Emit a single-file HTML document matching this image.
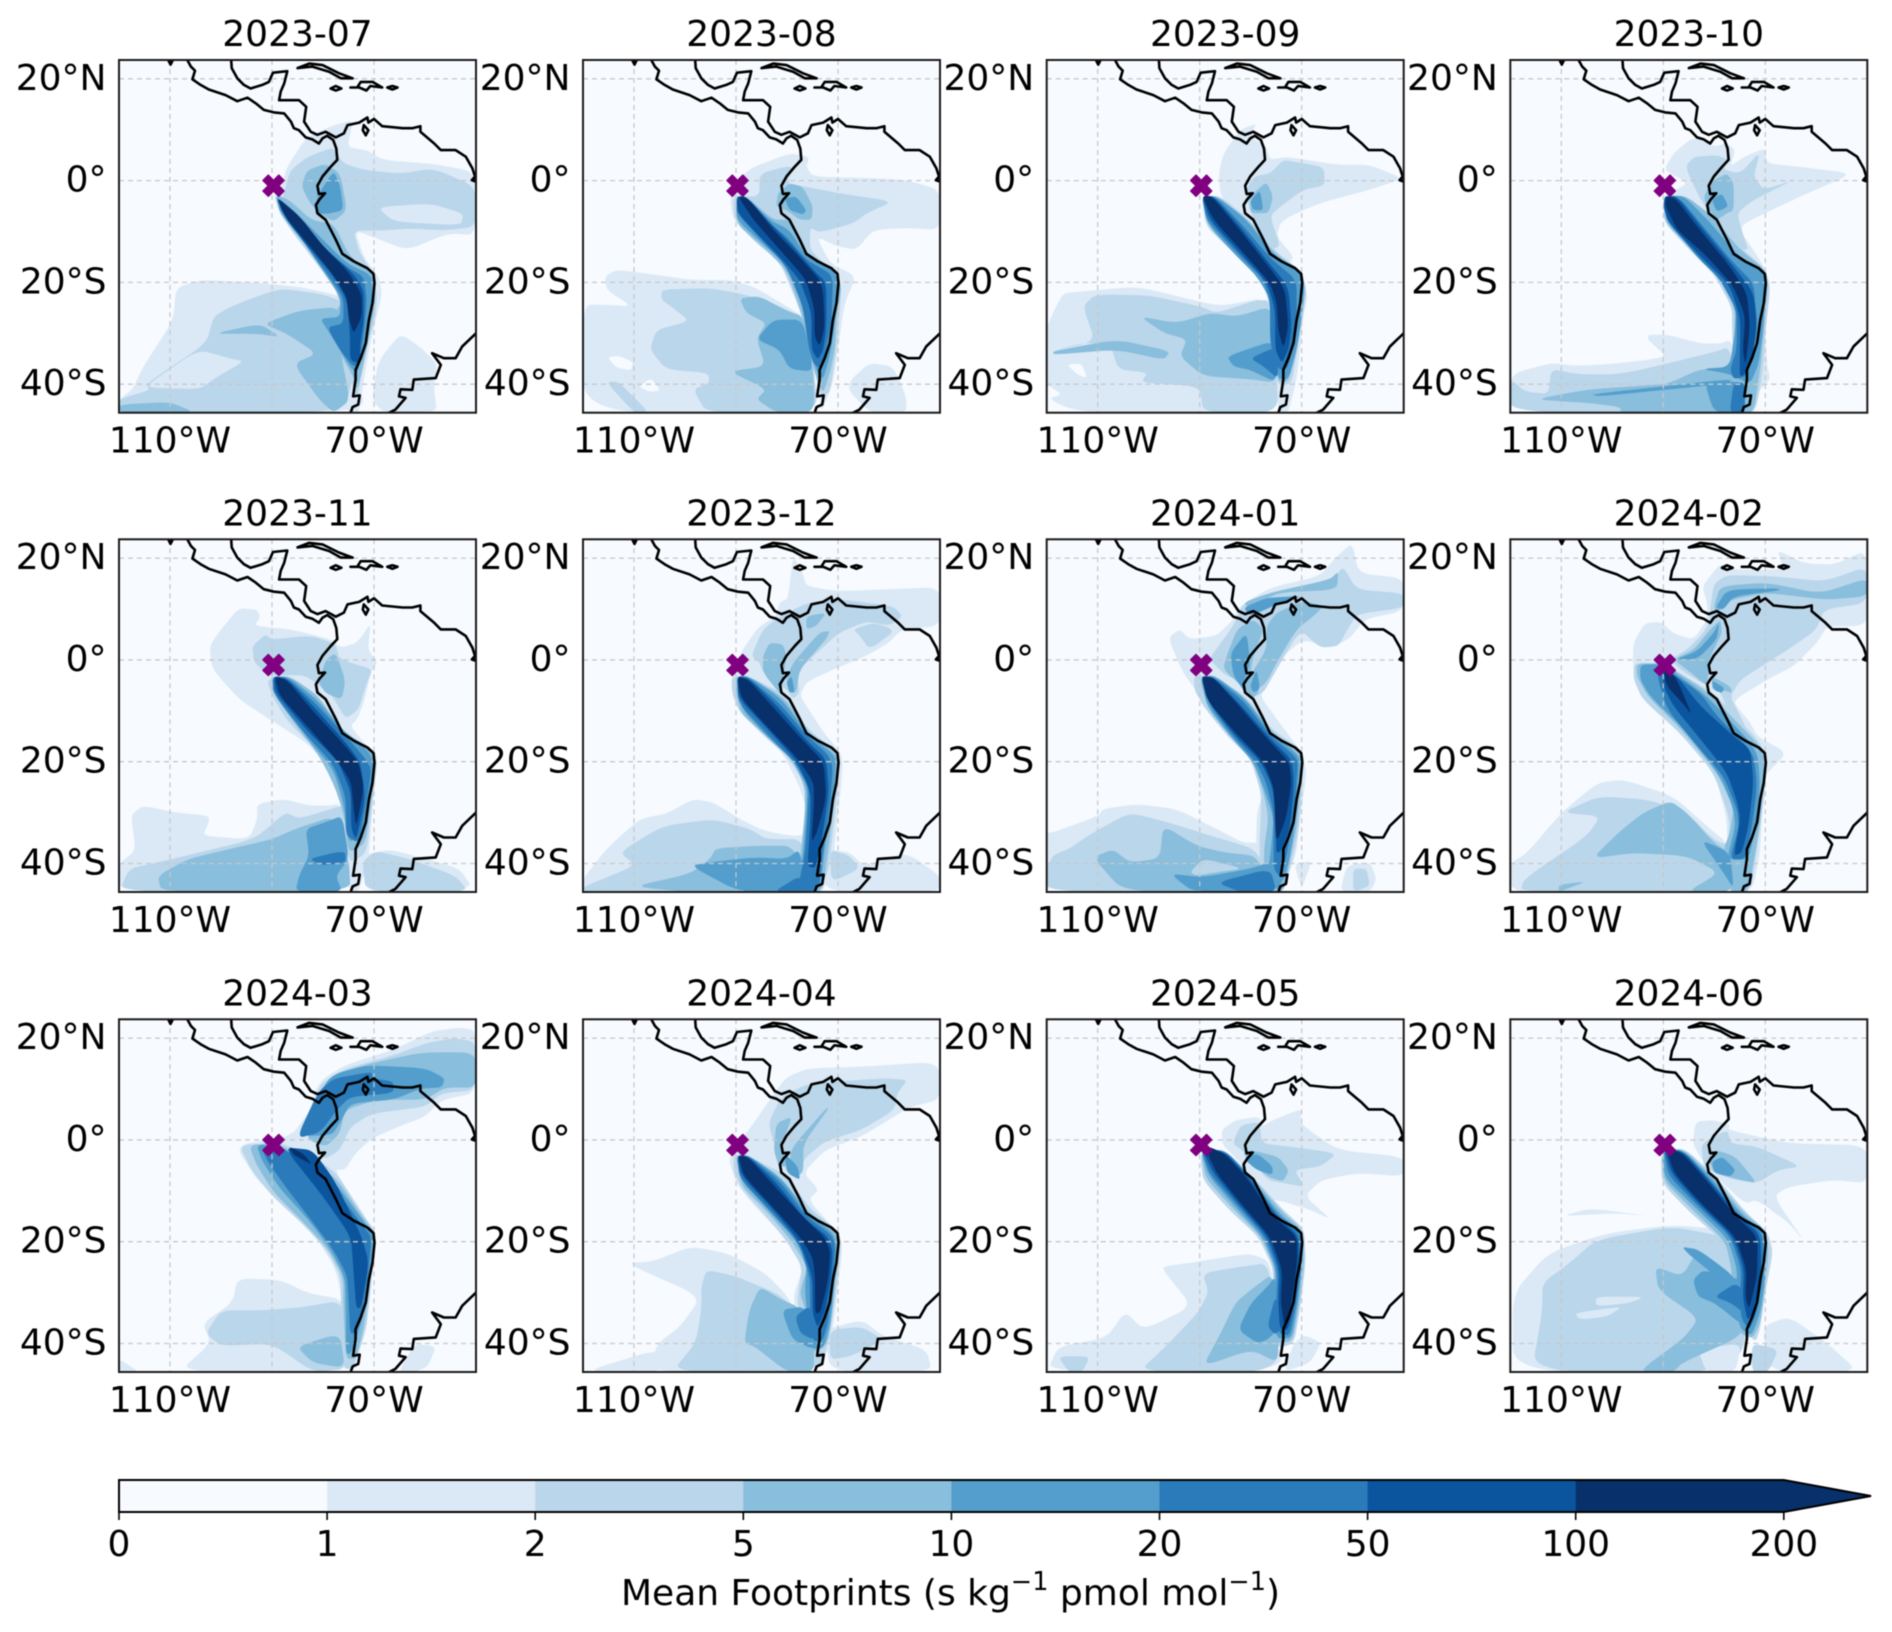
<!DOCTYPE html>
<html lang="en"><head><meta charset="utf-8"><title>Mean Footprints</title>
<style>html,body{margin:0;padding:0;background:#fff}svg{display:block;filter:blur(.55px)}text{font-family:"DejaVu Sans","Liberation Sans",sans-serif;fill:#000}</style>
</head><body>
<svg id="figure" xmlns="http://www.w3.org/2000/svg" width="1892" height="1632" viewBox="0 0 1892 1632"></svg>
<script>
const months=['2023-07','2023-08','2023-09','2023-10','2023-11','2023-12','2024-01','2024-02','2024-03','2024-04','2024-05','2024-06'];
const levels=[0,1,2,5,10,20,50,100,200];
const bandColors=['#f7fbff','#dbe9f6','#bad6eb','#89bedc','#539ecd','#2b7bba','#0b559f','#08306b'];
const lonDomain=[-120,-50];
const latDomain=[-45.6,23.7];
const lonGrid=[-110,-90,-70];
const latGrid=[20,0,-20,-40];
const lonTicks=[-110,-70];
const latTicks=[20,0,-20,-40];
const site=[-89.7,-1];
const coastPacific=[-106.6,23.7,-105.9,22.4,-105.1,21.6,-105.6,19.9,-104,18.8,-102.4,17.9,-99.1,16.8,-96.8,15.6,-94.8,16.3,-93.2,15.2,-91.6,13.9,-89.6,13.4,-87.6,13.2,-86.3,11.6,-85.7,10.3,-84.7,9.9,-83.4,8.5,-82.1,8.1,-80.8,7.3,-80.1,8.3,-79.2,8.8,-78,8,-77.4,6.3,-77.2,4.1,-78.5,2.7,-80.1,.8,-81.1,-1,-80.8,-2.6,-79.6,-2.5,-80.7,-3.7,-81.4,-4.8,-81.1,-6.4,-79.5,-7.7,-77.5,-11.6,-76.2,-14.4,-73.9,-15.9,-71.3,-17.2,-70.1,-18.3,-69.9,-20.2,-70.3,-24.1,-71,-27.4,-71.6,-31.9,-72.6,-34.9,-73.6,-37.2,-73.6,-39.1,-74.1,-42.4,-72.8,-42.2,-73.1,-44,-74.2,-44.5,-74.6,-45.7];
const coastCaribbean=[-98,23.7,-97.9,22.1,-96.8,20.1,-95.5,18.8,-94.2,18.1,-91.9,18.8,-90.6,19.4,-89.8,21.2,-87,21.5,-87.6,19.1,-88.3,17.5,-88.6,15.8,-84.7,15.8,-83.3,14.5,-83.7,11.6,-82.4,9.6,-81.1,9,-79.5,9.6,-77.5,8.5,-75.9,9.3,-75.2,10.9,-72.9,11.4,-71.3,12.4,-71.1,11.4,-70,12.1,-68.4,10.7,-64.4,10.3,-62.5,10.3,-60.9,10.7,-60.9,9.6,-58.2,7.3,-56.9,6,-54,6,-52,4.7,-50.7,2.4,-50.2,.8];
const coastAtlantic=[-50,-30,-52.7,-32.6,-54,-34.9,-56.3,-34.9,-58.6,-33.9,-56.9,-36.2,-57.9,-38.8,-62.2,-39.1,-62.5,-41.1,-64.8,-41,-65.1,-42.4,-63.8,-42.7,-65.8,-45,-67.2,-45.7];
const islandCuba=[-85,22.1,-82.7,23,-80.1,22.7,-76.9,21.1,-74.2,20.1,-76.5,20.1,-78.8,21.4,-82.1,22.4];
const islandJamaica=[-78.5,18.1,-77.5,18.6,-76.4,18.1,-77.5,17.7];
const islandHispaniola=[-74.6,18.3,-73.3,18.3,-72.6,19.4,-70.3,19.4,-68.4,18.3,-70.7,18.6,-71.5,17.7,-72.9,18.3];
const islandPuertoRico=[-67.4,18.3,-66.4,18.6,-65.4,18.3,-66.4,17.9];
const bajaTip=[-110.3,23.6,-109.5,23.6,-109.9,22.8];
const lakeMaracaibo=[-72,10.9,-71.1,9.9,-71.6,8.9,-72.2,9.9];
const islandMarajo=[-50.8,.1,-50.1,.9,-50,-.2];
const f2307=[
[1,[-120,-45.6,-120,-43,-117.3,-41,-115.3,-36.6,-109.4,-27.5,-108.8,-21,-104,-19.5,-98,-19.8,-91,-20.2,-84,-21,-78,-22.3,-76,-23,-74,-30,-73,-38,-71.8,-45.6]],
[1,[-88.1,-1.2,-87.1,2.7,-83.2,8.6,-77.9,10.9,-74,11.9,-75.3,6.6,-71.4,6,-68.1,4,-58.3,3.3,-50,1.7,-50,-10.7,-55.6,-10.4,-63.5,-13.7,-69.4,-11.4,-73.7,-9.8,-72,-15,-69.1,-18.9,-68.4,-22.2,-69.7,-27.5,-71,-33.4,-72,-39.3,-73,-45.8,-75.3,-45.6,-76,-36.6,-76.6,-22.9,-79.9,-18.3,-84.5,-12,-88.4,-6.5,-89.7,-3.2]],
[1,[-68.1,-34,-64.8,-30.1,-60.9,-32.7,-57.6,-36,-58.3,-40.6,-57.6,-45.6,-68.1,-45.6,-70.4,-43.2,-69.4,-36.6]],
[2,[-98.9,-25.2,-95,-23.5,-88.4,-21.2,-80.6,-22.2,-76.6,-23.5,-75.3,-30.1,-74,-38.6,-76,-45.6,-120,-45.6,-120,-42.9,-114,-41.2,-114.7,-39.9,-102.9,-32,-101.5,-26.8]],
[1,[-114,-39.8,-104.5,-33.2,-98,-35,-95.5,-35.5,-101,-38.7,-104.2,-41,-114,-40.7]],
[2,[-87.8,-3.2,-86.5,2,-82.9,4.7,-77.9,6.6,-76,3.3,-71.4,2,-64.8,1.4,-58.3,2.4,-50,-1.2,-50,-9.1,-56.3,-9.8,-62.9,-9.4,-68.1,-9.8,-74,-9.8,-73,-13.7,-70.7,-17.6,-69.4,-22.2,-69.7,-26.8,-71.4,-32.7,-72.4,-37.9,-73.3,-43.2,-75.3,-36.6,-77.3,-20.9,-81.2,-16.3,-85.8,-10.4,-89,-5.5]],
[1,[-69.4,-5.2,-58.9,-4.5,-52.4,-6.5,-53,-8.8,-66.1,-8.1]],
[3,[-91.7,-28.1,-84.5,-25.5,-76.6,-24.8,-76.6,-33.4,-74.7,-43.2,-77.9,-45.6,-80.6,-43.2,-85.8,-36,-81.2,-34,-87.1,-30.1]],
[3,[-101.5,-30.1,-92.4,-28.1,-88.4,-30.7,-93,-30.1]],
[3,[-120,-45.6,-120,-44,-110,-43.5,-105,-45.6]],
[3,[-84.2,-1.2,-83.2,2,-79.6,3.3,-76.6,1.4,-75.3,-5.8,-77.9,-8.1,-80.5,-6.5,-82.5,-4.5]],
[3,[-89.4,-2.6,-86.5,-3.9,-82.2,-7.8,-77.9,-8.5,-74.7,-15,-70,-18.3,-69.7,-23.5,-70.7,-29.4,-72,-36,-73.3,-41.2,-74,-38.6,-76.6,-34,-79.9,-27.5,-76.6,-24.8,-76.6,-22.2,-79.2,-17.6,-84.5,-11.4,-88.4,-6.5]],
[4,[-81.2,-3.2,-77.9,2,-76.6,-1.2,-76,-5.8,-78.9,-6.5,-81.2,-6.5]],
[4,[-89.3,-2.9,-85.8,-5.8,-81.2,-10.4,-75.3,-16.3,-70.4,-18.6,-70.4,-23.5,-71.4,-30.1,-72.4,-34.7,-73.3,-37.9,-74.7,-36.6,-78.6,-30.1,-80.6,-27.1,-76.6,-26.8,-76.6,-22.9,-79.2,-18.9,-83.8,-12.1,-88.4,-6.2]],
[5,[-89.2,-3.2,-85.1,-6.5,-80.6,-12.4,-75.3,-17,-72,-18.9,-71.4,-23.5,-72,-30.1,-73,-36,-74,-36.6,-76.6,-33.4,-79.2,-28.8,-76,-28.1,-76,-22.9,-79.2,-18.3,-84.5,-11.1]],
[6,[-89.1,-3.2,-84.5,-7.8,-79.2,-13.7,-74,-18.3,-72,-21.6,-72,-27.5,-72.7,-32,-72.7,-36,-74.7,-35.3,-74.7,-30.1,-75.3,-23.5,-77.9,-18.9,-82.5,-13.4,-87.1,-7.8]],
[7,[-89.1,-3.2,-84.5,-7.1,-79.9,-13,-75.3,-17.6,-72.4,-22.2,-72.4,-26.8,-74,-30.1,-75,-26.8,-75.3,-22.9,-77.9,-18.6,-83.8,-11.4,-87.8,-6.5]]
];
const f2308=[
[1,[-120,-24.4,-115.4,-24.4,-110.5,-24.7,-115.4,-21.5,-115.7,-18.8,-113.4,-17.5,-105.6,-18.5,-99,-19.5,-91.2,-19.5,-86.6,-20.8,-80,-24.7,-76.8,-26.7,-74.9,-36.5,-74,-45.6,-120,-45.6]],
[0,[-115.2,-34.7,-113,-34.4,-110.2,-35.7,-110.6,-37.3,-113.5,-36.7]],
[0,[-109,-40.5,-106.7,-38.8,-104.8,-41.2,-107,-41.5]],
[1,[-88,2.1,-79.5,5.4,-75.6,4.7,-76.2,2.7,-74.9,.8,-63.1,.5,-56.6,.1,-50,-1.8,-50,-9.7,-56.6,-9.3,-63.1,-9.7,-66.4,-13.6,-70.3,-12.9,-74.2,-11,-71.6,-16.2,-66.4,-18.8,-68.7,-24,-70,-33.2,-71,-39.7,-72,-42.4,-73.3,-45.5,-73.9,-39.7,-74.9,-35.2,-77.5,-25.4,-81.4,-16.2,-85.4,-12.9,-90.6,-7.7,-91.2,-3.1]],
[1,[-67.4,-39,-63.8,-35.8,-59.2,-36.5,-56.6,-42.4,-56.6,-45.6,-63.8,-45.6,-68,-41.1]],
[2,[-104.6,-21.4,-95.8,-21.1,-89.3,-22.1,-82.7,-24.1,-77.2,-26.7,-74.9,-35.2,-73.9,-45.6,-95.8,-45.6,-98.4,-41,-95.2,-39.7,-95.5,-37.8,-103.7,-37.1,-106.9,-33.2,-105.6,-29.3,-99.1,-27.6,-102.4,-25,-104.6,-23.4]],
[2,[-115.5,-39.5,-113,-39.5,-107,-45.6,-110,-45.6]],
[2,[-85.4,1.4,-78.8,3.1,-80,-.5,-76.2,-1.2,-69.7,-2.5,-59.2,-4.1,-64.4,-6.4,-67,-8.4,-73.6,-10.2,-75.5,-9.2,-75.5,-13.5,-73,-16,-70.7,-18.8,-69.3,-21.4,-70.3,-33.2,-71.6,-41.7,-73.3,-42.4,-74.9,-36.5,-77.2,-26,-81.4,-15.6,-86,-12.3,-90.3,-7.7,-90.6,-3.1,-85.4,-3.1]],
[3,[-89.3,-23.1,-85.4,-22.7,-80,-25.6,-76.8,-26.7,-74.9,-36.5,-74.6,-45.6,-82,-45.6,-86,-43,-84,-41,-91.3,-37.5,-84.2,-36.5,-86,-31,-84,-28,-88,-26]],
[3,[-82.1,-5.1,-81.8,-2.5,-79.5,-.5,-76.9,-1.2,-74.9,-5.1,-75.2,-7.7,-77.5,-7.7,-80.1,-5.8]],
[3,[-89.9,-3.1,-88,-3.1,-82.7,-7.7,-79.5,-7.7,-76.2,-14.3,-71,-17.2,-70,-18.8,-69.3,-21.4,-70.3,-26.7,-70.6,-33.2,-71.6,-37.8,-72.9,-41.7,-73.9,-39.7,-74.9,-36.5,-76.9,-26.7,-80.1,-17.6,-84.7,-13,-89.9,-8.5]],
[4,[-82.7,-27.3,-77,-27.3,-75.2,-34.5,-75.2,-37.5,-79.5,-37,-81.5,-33.2,-86,-31.2]],
[4,[-80.5,-3.5,-78.2,-3.1,-76.2,-5.8,-76.9,-6.7,-79.5,-5.8]],
[4,[-89.9,-3.5,-88,-3.1,-83.4,-7.7,-79.5,-9.7,-76.2,-14.9,-71,-17.5,-70,-19.5,-70.6,-28,-71.6,-34.5,-72.9,-39,-73.9,-38,-75.2,-34.5,-76.5,-25.4,-79.5,-16.9,-84.1,-13,-89.9,-7.7]],
[5,[-89.9,-3.5,-88,-3.1,-83.4,-8.4,-80.1,-11,-76.2,-15.6,-71.6,-18.2,-71,-20.1,-71.3,-28,-72.3,-32.6,-73.3,-37.1,-74.9,-35.9,-75.9,-31.9,-76.9,-24.7,-80.1,-16.9,-84.7,-12,-89.9,-6.4]],
[6,[-89.9,-3.1,-88,-3.1,-82.7,-9,-78.8,-13,-74.9,-17.5,-72.3,-20.1,-72.3,-28.7,-72.9,-33.2,-73.9,-35.2,-75.2,-33.2,-75.2,-25.9,-77.5,-19.5,-81.4,-15,-86,-10.3,-89.6,-6.4]],
[7,[-89.6,-3.1,-87.6,-3.5,-82.7,-9.7,-78.2,-14.3,-73,-20.1,-72.6,-28.7,-73.6,-32.6,-74.6,-30.6,-74.6,-25.4,-76.2,-19.5,-81.4,-13.6,-86.6,-7.7]]
];
const f2309=[
[1,[-120,-29,-118.8,-26,-116.8,-22.1,-113.4,-21.8,-102.4,-20.8,-93.9,-22.8,-86,-24.7,-76.2,-22.8,-74.5,-45.6,-120,-45.6]],
[0,[-116,-36.1,-113.1,-36,-112.1,-38.8,-114,-38.1]],
[0,[-120,-40,-117,-42,-120,-43]],
[1,[-86.3,1.4,-85.3,5.4,-82.1,10,-78.8,11.3,-80.1,8.6,-76.9,6.7,-76.2,4.1,-72.9,4.7,-63.1,3.1,-56.6,3.1,-50,.4,-56.6,-1.8,-66.4,-4.4,-72.3,-7,-74.2,-8.4,-74.9,-11,-71.6,-14.9,-72.3,-16.2,-68.7,-22,-69.7,-26.7,-70.3,-33.2,-71,-39,-72.6,-45.6,-74.6,-45.6,-74.9,-39,-75.5,-24,-80.1,-16.2,-82.7,-13,-85.4,-9.7,-88,-5.1,-89.3,-3.1,-87,-3,-82,-7.7,-85.9,-3.1]],
[2,[-119.7,-33.7,-113.4,-32,-107.6,-31.9,-106,-37.1,-100.2,-37.7,-101.5,-39.7,-90,-40.4,-89.3,-45.6,-74.6,-45.6,-75,-36,-76.2,-23.5,-79,-23.5,-86.6,-26,-90,-24.7,-100,-22.5,-110.5,-22.4,-112.9,-24.7,-110.5,-31.6]],
[2,[-81.1,-2.5,-79.5,.8,-76.2,1.4,-73.6,4.1,-70.3,3.5,-65.7,2.7,-65.4,-.9,-69.7,-1.8,-74.2,-5.1,-76.2,-7,-74.2,-12.9,-76.2,-13.6,-79.5,-7.7]],
[2,[-89.6,-3,-86,-3,-80.5,-7.5,-75,-14,-70,-17.8,-69,-21.5,-69.8,-27,-70.8,-33,-72,-40,-75,-40,-75.5,-27,-78,-19,-83,-14.5,-88.8,-9]],
[3,[-101.7,-26.7,-94.5,-28,-88,-26,-82.7,-26.7,-76.2,-24.7,-74.9,-30.6,-74.9,-39.7,-80.1,-39,-89.3,-38.4,-93.9,-34.5,-92.5,-31.2,-97.1,-29.9]],
[3,[-118.7,-33.5,-106.3,-31.2,-95.8,-33.5,-97,-35.2,-106.3,-33.2,-118.7,-34.2]],
[3,[-80.1,-3.1,-76.9,-.2,-75.6,-3.1,-76.5,-6.4,-80.1,-6.4]],
[3,[-89.5,-3.1,-86.5,-3.1,-80.5,-7.7,-75.3,-14.2,-70,-18,-69.3,-21.4,-69.9,-26.7,-70.9,-33.2,-72.6,-39.5,-74.8,-39.5,-75.3,-30,-75.6,-24.2,-78.8,-18.8,-83.4,-14.2,-88.6,-8.4]],
[4,[-84.7,-34.5,-74.9,-31.2,-74.9,-39.7,-80.1,-37.2,-83.4,-36.5]],
[4,[-80.1,-4.1,-78.2,-1.8,-77.5,-5.8,-79.5,-5.8]],
[4,[-89.5,-3.1,-86.7,-3.1,-80.8,-7.7,-75.6,-14.5,-70,-18.2,-69.5,-21.4,-70,-26.7,-71,-33.2,-72.6,-39,-74.6,-39,-75.3,-33,-75.6,-24.2,-78.8,-18.8,-83.4,-14.2,-88.6,-8.4]],
[5,[-80.1,-34.9,-74.9,-32.6,-74.6,-39,-77.5,-36.5]],
[5,[-89.6,-3,-87,-3.1,-81.4,-9,-76.2,-15.2,-71,-19.5,-71,-26.7,-71.6,-32.6,-72.9,-37.1,-74.6,-37.1,-76.2,-31.9,-76.2,-24,-77.5,-19.5,-82.7,-14.2,-88.6,-7.7]],
[6,[-89.6,-3,-87.3,-3.1,-82.1,-9,-76.9,-15.6,-72.6,-20.8,-72,-28.7,-72.6,-33.2,-73.9,-35.9,-75.2,-33.2,-75.2,-25.4,-76.9,-19.8,-82.1,-14.2,-88,-7.7]],
[7,[-89.5,-3,-87.6,-3.1,-82.7,-9,-77.5,-15.6,-73.3,-21.1,-72.6,-28.7,-73.6,-33,-74.6,-29.4,-74.9,-24,-76.2,-20.1,-81.4,-14.2,-87.3,-7.7]]
];
const f2310=[
[1,[-120,-45.6,-120,-38,-112,-35.8,-106.9,-36.4,-100,-36,-93,-35.2,-89.5,-34.5,-93,-31.3,-93,-30.3,-89,-30.3,-82.7,-32,-78.8,-32,-76.9,-31.3,-75,-35,-73,-45.6]],
[1,[-89.9,2.1,-88,5.4,-84.1,8.6,-80.1,6.7,-77.5,7.3,-75.9,6,-76.9,2.7,-74.2,4.7,-70,6.4,-69.7,3.4,-63.1,2.7,-52.7,1.4,-63.1,-3.1,-74.2,-8.4,-74.9,-10,-72.3,-13.6,-70,-17.5,-69,-21.4,-70.3,-25.4,-69.6,-36.5,-69,-39,-72.3,-42.4,-73.9,-45.6,-75,-39.7,-76,-25.4,-80.1,-16.9,-85.4,-11.6,-90,-7,-90,-3,-85,-.5]],
[2,[-120,-45.6,-120,-39,-117,-41.5,-112.5,-41.9,-112,-37,-107,-38,-100.5,-38.1,-95.8,-37.5,-80,-33.7,-77,-32.6,-74,-45.6]],
[2,[-85.7,2.7,-84,4.7,-79.5,5,-77.2,4.1,-78.2,2.1,-74.9,1.4,-71,5.7,-72.3,.8,-70.3,-1.8,-64.5,.1,-72.3,-3.8,-75.6,-6.4,-74.2,-11,-73.3,-13.6,-75.6,-13.6,-77.5,-11,-82.7,-3.8]],
[2,[-89.8,-3,-85.5,-3,-79.5,-7.5,-74.5,-13.5,-70,-17.3,-69,-21,-70,-30,-70.5,-38,-72,-45.6,-76,-45.6,-76.5,-30,-76.5,-25,-80,-18.5,-84.5,-14,-90,-8]],
[3,[-115.4,-43,-104.4,-41,-95.8,-40.4,-89.3,-40,-82.7,-37,-76.2,-37,-75.5,-45.6,-98.4,-45.6,-98.4,-44.5,-104.4,-43.7]],
[3,[-82.1,-3.1,-80.1,.1,-77.5,1.4,-76.2,-.5,-76.2,-5.8,-77.5,-6.4,-79.5,-7.7,-81.4,-5.1]],
[3,[-89.7,-3,-85.5,-3,-80,-7.5,-75,-13.5,-70,-17.5,-69.5,-21,-70.3,-30,-71,-37,-72.3,-45.6,-76,-45.6,-76,-30,-76,-25,-79.5,-18.5,-84,-14,-89.8,-8]],
[4,[-104.4,-42,-76.9,-39,-76.9,-39.8,-102.4,-42.4]],
[4,[-82,-39.5,-74,-39.5,-74,-45.6,-80,-45.6]],
[4,[-80.5,-3.8,-78.5,-2.5,-77.2,-5.1,-79.5,-6.1]],
[4,[-89.6,-3,-86,-3,-81,-8,-75.6,-14.5,-70.3,-17.9,-69.8,-21,-70.5,-30,-71.3,-36,-73,-40,-77,-38,-82.5,-37,-77,-36.6,-76,-30,-75.6,-24,-79.5,-18.5,-84,-14,-89.5,-8]],
[5,[-76.2,-39.7,-74,-39.7,-74,-45.6,-77,-45.6]],
[5,[-89.6,-3.1,-86.7,-3.5,-82.7,-8.4,-76.2,-16.2,-72.3,-20.1,-71.6,-28,-72.3,-33.2,-73.6,-38.4,-76.2,-39,-76.9,-37,-75.6,-33.2,-75.6,-25.4,-78.8,-19.5,-83.4,-14.9,-89.3,-7.7]],
[6,[-89.7,-3,-87.3,-3.1,-82.7,-9,-76.2,-16.9,-72.3,-22,-71.6,-29,-73,-37,-75,-38.8,-75,-34,-74.9,-27,-77,-20.5,-82.7,-14.9,-89,-8.2,-90,-5]],
[7,[-89.5,-3.1,-87.6,-3.5,-83.4,-9,-76.9,-16.9,-73.6,-22.1,-73,-28.7,-73.9,-36.5,-74.4,-33.2,-73.9,-26.7,-76.2,-20.8,-81.4,-14.9,-87.3,-9.7,-89.5,-5.1]]
];
const f2311=[
[1,[-117.7,-30.6,-115.4,-28.6,-108.9,-30,-102.4,-30.6,-102.4,-32,-103.6,-34.6,-94.5,-35.2,-92.9,-31.3,-92.9,-28.3,-88,-27.3,-82.7,-28.6,-78.8,-28.6,-76.5,-28.3,-74,-45.6,-120,-45.6,-120,-40,-116.7,-37.4]],
[1,[-102.3,2.7,-100,6,-96.5,10.2,-92.9,9.9,-92.3,8.3,-93.5,6.7,-86.4,6,-78.5,4.1,-76.5,2.4,-73.3,3.4,-70.6,7.3,-71.2,2.1,-69.3,-.5,-70.6,-2.5,-72,-8.4,-73.3,-11.6,-74.6,-13,-72,-16.2,-69.7,-18.2,-69.3,-20.1,-70,-25.4,-70.6,-33.2,-71,-38.4,-73,-45.6,-74.9,-45.6,-76,-33,-76.9,-26,-79.5,-20.1,-83.4,-16.2,-90.6,-11.6,-96.5,-7.7,-101.7,-1.8]],
[1,[-72.3,-38.4,-67,-37.2,-59.8,-39.1,-53.2,-41,-50.6,-45,-70.6,-45.6]],
[2,[-112.4,-39.8,-101.3,-37.1,-95.8,-35.8,-92.6,-34.5,-87.3,-29.9,-84.7,-31.2,-77.5,-29,-76.2,-28.6,-74.6,-45.6,-120,-45.6,-118,-41]],
[2,[-93.9,2.7,-91.3,5,-90,4,-82.4,4.8,-77.5,3.1,-76.9,.5,-74.9,-.5,-70.3,-1.8,-71.6,-5.1,-73,-9.7,-75.6,-11.6,-78.2,-7,-83.4,-3,-88,-3,-90.6,-3,-93.5,-.5]],
[2,[-72.3,-39.7,-69.7,-37.5,-63.1,-39.1,-54,-42.4,-51.4,-45.6,-71.6,-45.6]],
[2,[-91,-4,-88,-3,-82,-7,-76.5,-14,-70.5,-18.2,-69.4,-20.5,-70.5,-30,-71.5,-38,-75,-40,-76,-30,-77.5,-25.5,-81,-18,-87,-12,-90,-7]],
[3,[-112.4,-42.4,-106.5,-39.1,-98,-37.1,-89.9,-35.2,-85.4,-33.2,-77.5,-30.6,-74.9,-39.7,-74.6,-45.6,-111.7,-45.6]],
[3,[-80.8,-4.6,-79.5,0,-77.5,1.4,-75.6,-4,-76.3,-7.8,-79.5,-6.5]],
[3,[-90,-3.2,-86.5,-3.2,-81,-7,-76.5,-13.5,-70.5,-17.8,-69.6,-20.5,-70.7,-29,-71.7,-36,-75,-38,-76,-30,-78,-24,-81,-18.5,-86,-12,-90,-6]],
[4,[-83.4,-33.2,-79.5,-31.9,-76.2,-30.6,-74.9,-39.1,-77.5,-42.4,-76.2,-45.6,-85.4,-45.6,-84.7,-42.4,-82.7,-38.4]],
[4,[-90,-3.2,-86.5,-3.5,-81,-8,-76,-14,-71,-18,-70,-20.5,-71,-28,-72,-34,-75,-36,-76,-28,-78,-21.5,-83,-15.5,-89.5,-7]],
[5,[-82.7,-39.1,-77.5,-37.8,-75.6,-37.8,-75.6,-39.8,-80.1,-40.4]],
[5,[-89.8,-3.2,-87,-3.5,-81.5,-8.5,-75.5,-15,-72,-19,-70.5,-21.5,-71.5,-28,-73,-36,-75.5,-34.5,-75.5,-27,-78,-20.5,-83.5,-14.5,-89.8,-6.5]],
[6,[-89.7,-3.2,-87,-3.7,-82,-9,-75.7,-16,-72.7,-20,-71.7,-27,-73.5,-35.5,-74.5,-33,-74.5,-26,-77,-20,-83,-14,-89.3,-6.5]],
[7,[-89.5,-3.2,-87,-4,-82.5,-9.5,-76,-16.5,-73,-20.2,-72,-25,-73.5,-33,-74,-29,-74.5,-24,-77,-20,-82.5,-13.7,-88.5,-7]]
];
const f2312=[
[1,[-120,-43,-115.4,-37.1,-108.9,-31.2,-103.6,-30.2,-98.4,-27.3,-94.5,-28,-89.3,-31.2,-85.4,-33.2,-81.5,-34.2,-78,-34.6,-76.9,-34.2,-75.2,-45.6,-120,-45.6]],
[1,[-88.7,2.1,-85.4,6.7,-82.1,8.5,-81.5,11.3,-79.8,12,-78.8,20.6,-76.9,17,-76.2,14.5,-70,13.5,-60.1,13.9,-50,14.3,-50,6.7,-56.6,6,-58,5.5,-60,3.4,-64.4,.8,-70.8,-1.8,-76.2,-4.4,-77.5,-7,-74.9,-11,-73,-14,-69,-18.8,-69.4,-25,-70.3,-33,-71,-40,-73,-45.6,-74.5,-45.6,-76,-30,-77.5,-25,-81,-18,-86,-13.5,-90.6,-8,-91,-3.5]],
[1,[-72.3,-37.2,-67.7,-37.8,-65,-40.4,-56.6,-37.8,-50,-42.4,-50,-45.6,-73,-45.6]],
[2,[-120,-44.6,-109.6,-40.4,-112.9,-37.8,-104.4,-32.6,-94.5,-31.3,-87.3,-33.2,-84.1,-35.2,-76.9,-35.2,-74.6,-45.6,-120,-45.6]],
[2,[-87,.8,-84.7,6,-82.1,8,-76.2,11.2,-69.7,11.9,-59.2,10.6,-57.3,8.6,-59.9,6.7,-64.4,7.6,-69.7,5.4,-74.2,1.4,-78.2,-2.5,-77.5,-6.4,-78.8,-7.7,-80.1,-5.8,-84.7,-2.5,-85.4,-.5]],
[2,[-67,6,-63.1,7.3,-59.9,6.3,-59.2,5.4,-63.8,2.1,-65.7,4.7]],
[2,[-71.6,-37.2,-67.7,-38.5,-65.7,-41,-71.3,-43.7]],
[2,[-90.8,-3.5,-88,-3,-80,-7,-76,-13.5,-71.5,-17,-70,-18.8,-69.8,-21,-70.5,-30,-71.5,-38,-72,-42,-74.5,-45.6,-76,-45.6,-77,-35,-76,-28,-77,-23.5,-80,-19,-85,-14.5,-89.5,-10,-90.8,-6]],
[3,[-110,-44.5,-99,-42,-95,-39,-94,-37,-85.4,-36.5,-78.8,-36.5,-75.3,-45.6,-100.2,-45.6]],
[3,[-84.7,.8,-83.4,3.4,-80.8,3.1,-80.1,.8,-80.8,-3.8,-81.1,-7,-84.7,-2.5]],
[3,[-76.2,8.6,-72.3,9.3,-74.2,6.7,-76.2,6]],
[3,[-80.1,-3.8,-78.8,-.5,-73.6,5.4,-71.6,5.7,-72.3,4.1,-77.5,-1.8,-78.2,-6.4,-79.5,-6.4]],
[3,[-90,-3.2,-87.5,-3.2,-80.5,-7.5,-76,-14,-71.5,-17.5,-70,-19,-70,-21,-71,-30,-72,-38,-73,-45.6,-78,-45.6,-77.5,-40,-76.5,-30,-76.5,-25,-79,-19.5,-84,-15,-89,-10.5,-90,-6.5]],
[4,[-99,-40.4,-94.5,-39.7,-86.7,-38.8,-80.1,-39.1,-77.5,-37.2,-76.2,-45.6,-89.3,-45.6]],
[4,[-80.1,-4.4,-79.1,-3.1,-78.5,-6.4,-79.5,-6.4]],
[4,[-89.9,-3.2,-87.5,-3.2,-81,-7.7,-76,-14.5,-71.5,-18,-70.3,-19.5,-71,-28,-72.5,-36,-73.5,-45.6,-80,-45.6,-77,-40,-76.2,-30,-76,-25,-78.8,-19.8,-84,-15,-89,-9.5]],
[5,[-82.7,-45.6,-77.5,-42.4,-76,-45.6]],
[5,[-89.8,-3.2,-87.5,-3.5,-81.5,-8.5,-76,-15,-72,-18.5,-71,-21,-71.5,-28,-73,-38,-73.8,-45.6,-78,-45.6,-76.5,-38,-76,-31,-75.7,-25,-78.5,-20,-83.5,-15,-89.5,-8.5]],
[6,[-89.8,-3.2,-87.5,-3.6,-82,-9,-76,-16,-72.3,-19.5,-71.8,-26,-73.3,-36,-74.5,-41,-76,-40.5,-75.5,-33,-75.3,-26,-78,-20,-83,-14.5,-89.5,-7.5]],
[7,[-89.7,-3.2,-87.5,-4,-83,-9,-77,-15.7,-72.8,-20,-72.3,-27,-74,-33.5,-75.2,-36,-74.7,-28,-74.8,-24,-78,-19.3,-83.5,-13.5,-89,-7.5]]
];
const f2401=[
[1,[-120,-33.9,-118.8,-33.9,-109.8,-30.6,-109,-29.3,-102.4,-28.3,-94.5,-29.3,-86.7,-33.2,-81.5,-35.9,-78.2,-35.9,-74.5,-45.6,-120,-45.6]],
[1,[-95.8,4.7,-93.9,6,-92,4.1,-86.7,4.7,-83.4,8,-82.1,10.6,-76.2,14.2,-66.4,16.5,-63.1,20.4,-60.1,23,-58.8,17,-50,16.1,-50,9.6,-57.6,8,-60.7,4.1,-64.4,2.4,-69.7,4,-73.6,.8,-76.2,-3.1,-78.2,-7,-74.9,-11.6,-70,-18.2,-69,-22.1,-70.6,-33.2,-71,-37.8,-72.9,-43,-73.6,-45.6,-80,-45.6,-79,-38,-78.8,-30,-77.5,-26,-80,-19,-84.7,-15,-90,-7,-93.3,-2.5,-95.8,3.4]],
[1,[-61.2,-40.4,-56.6,-39.7,-55.3,-43,-56.6,-45.6,-62.5,-45.6]],
[1,[-71.5,-40,-68,-39.5,-70,-45]],
[2,[-120,-41,-118.8,-38.4,-115.4,-37,-112.9,-35.2,-109.6,-33.2,-103.7,-30,-95.8,-32,-88,-34.5,-78.8,-37.2,-75.5,-45.6,-120,-45.6]],
[2,[-87.3,1.4,-83.4,6.7,-81.4,11.3,-74.9,13.2,-63.8,15.8,-61.9,18.4,-59.2,13.8,-50,13.1,-50,10.2,-59.2,9,-61,6,-62.8,2.7,-66.4,2.4,-70.3,6,-75.6,-3.1,-77.5,-6.4,-80.1,-7.7,-81.4,-4.4,-85,-3,-88,0]],
[2,[-59.9,-41,-57.3,-41,-56.6,-44.4,-59.9,-45.6]],
[2,[-91.2,-3.2,-88,-3,-81,-7,-76,-13.5,-71,-17,-69.5,-19,-69.7,-22,-70.5,-33,-71.5,-38,-73.5,-45.6,-78,-45.6,-78.3,-36,-78,-30,-78,-26,-80,-19.5,-84.5,-15,-89,-9.5,-91,-6]],
[3,[-110.9,-38.8,-107,-37.2,-103.7,-39.8,-97.8,-39,-97.2,-32.5,-90.6,-36.5,-85.4,-37.8,-78.8,-38.5,-76.2,-45.6,-104.9,-45.6]],
[2,[-91.9,-41.7,-89.3,-39,-81.4,-41,-86.7,-41.7,-90.6,-42.4]],
[3,[-81.4,11.3,-76.2,13.2,-64.5,15.8,-62.8,17.4,-63.1,13.8,-74.9,13.2,-80.1,9.9]],
[3,[-84.7,.8,-82.7,6,-79.5,8,-77.5,6,-79.5,.8,-80.1,-3.1,-78.2,-6.4,-80.1,-7.7,-81.1,-5.8,-85.4,-1.8]],
[3,[-76.9,6.7,-74.9,9.3,-69.7,11.6,-65.7,10.6,-67.7,8.6,-71,6,-74.9,-.5,-76.9,-4.4,-79.5,-6.4,-80.1,-3.1,-76.9,2.1]],
[3,[-90,-3.2,-87,-3,-81,-7.5,-76,-14,-71.5,-17.5,-70,-19,-70.3,-26,-71,-33,-72,-38,-73.5,-45.6,-77,-45.6,-77.5,-38,-76.5,-31,-77.5,-26,-79.5,-20,-84,-15,-88.5,-9.5]],
[4,[-95.8,-42,-89.3,-42.7,-80.1,-41,-76.2,-39.7,-75.5,-45.6,-91.3,-45.6]],
[4,[-84,1.4,-80.8,5.4,-80.1,-.5,-81.4,-4.4,-81.1,-6.4,-83.4,-3.1]],
[4,[-80.1,-5.1,-78.8,-1.8,-78.2,-5.8,-79.5,-6.4]],
[4,[-81.4,10.3,-76.9,12.2,-69.7,12.6,-74.2,11.2,-80.1,8.6]],
[4,[-89.9,-3.2,-87,-3.2,-81,-7.7,-76,-14.5,-71.5,-18,-70.3,-19.5,-71,-27,-71.5,-34,-73,-42,-75,-45.6,-76.5,-41,-76,-37,-75.5,-31,-77.5,-25,-79.5,-20,-84,-15,-88.5,-9]],
[5,[-86.7,-43.7,-76.2,-41,-74.9,-45.6,-82.1,-45.6]],
[5,[-89.8,-3.2,-87.3,-3.3,-81.5,-8,-76,-15,-71.8,-18.5,-70.7,-20,-71.3,-28,-72.7,-37,-74,-43,-75.5,-41,-75.5,-36,-75.5,-30,-77,-24,-79,-20,-83.5,-15,-88,-9]],
[6,[-89.7,-3.2,-87.3,-3.4,-82,-8.8,-76,-15.7,-72,-19.5,-71.5,-24,-72.3,-33,-74,-37.5,-75,-38,-75,-32,-75.7,-25,-78,-20,-83,-15,-88.5,-8]],
[7,[-89.6,-3.2,-87.3,-3.5,-82.5,-8.8,-76.5,-15.8,-72.5,-20,-72,-24,-73,-31,-75,-36,-75.3,-29,-75.5,-25,-77.5,-20,-83,-14.3,-88.5,-8]]
];
const f2402=[
[1,[-120,-39.9,-116.8,-38,-110,-30,-102.9,-24.1,-97.7,-23.5,-88,-26.8,-81.4,-32.7,-77.5,-35.9,-74.9,-45.6,-118,-45.6,-120,-44.4]],
[1,[-95.9,3.3,-93.7,7.2,-90.5,7.5,-88,5.2,-84.1,4,-81.4,7.9,-81.4,11.2,-82.4,14.5,-78.8,19,-76.2,17.7,-66.4,17.7,-67.7,21.7,-62.5,19,-56.6,18.7,-50,21.7,-50,7.6,-52,6.6,-57.9,6.6,-59.9,3.3,-64.4,-1.2,-69.7,-3.9,-74.9,-7.1,-76.2,-8.4,-72.9,-12.4,-71.6,-15,-65.7,-18.3,-69.7,-22.2,-70.3,-24.8,-71,-37.9,-72.3,-44.4,-74.3,-45.6,-77.5,-37.9,-77.5,-31.4,-80.1,-21.6,-87.3,-13,-94.4,-5.8,-96,-.6]],
[2,[-109.8,-30,-102.7,-26.8,-93.2,-27.4,-85.4,-30,-80.1,-35.3,-76.9,-36.6,-75.5,-45.6,-118,-45.6,-117.4,-43.1,-105,-34.6,-102.3,-30.7]],
[2,[-81,8.6,-80.1,15,-77.5,16.7,-67.7,16.4,-58.5,15.4,-50,18.4,-50,11.2,-58.5,9.9,-60,5.9,-64.5,2.7,-69.7,-.6,-74.9,-3.9,-76.9,-7.2,-74.9,-11,-73,-15,-76.9,-11,-78.5,-7,-81,-3]],
[2,[-88.6,.1,-85.4,2,-82.1,5.3,-80.1,9.2,-77.5,7.9,-77.5,3.3,-80.1,.1,-81.4,-5.2,-86.7,-1.9]],
[2,[-95.8,-.6,-90,-.6,-81.4,-5.8,-78.8,-7.8,-71.6,-15.6,-70,-18.3,-70,-24.8,-70.6,-30,-71.6,-37.2,-72.9,-45.6,-77.5,-45.6,-77.5,-36.6,-76.9,-31.4,-80.1,-22.2,-86.7,-14.4,-94,-7.8,-95.8,-3.9]],
[3,[-98.4,-33.6,-93.9,-30,-88.6,-27.7,-85.4,-30,-80.1,-35.9,-76.9,-37.9,-76.2,-45.6,-85.4,-45.6,-79,-41.8,-85.4,-38.5,-95.8,-37.9,-104,-39]],
[3,[-110.5,-44.2,-105,-43.5,-110.5,-45.6]],
[3,[-80.1,10.5,-78.8,14.5,-69.7,15.2,-59.2,13,-50,16.1,-50,12.5,-57.9,11.8,-69.7,13.2,-76.9,11.8,-79.5,9.2]],
[3,[-88,.1,-84,2,-80.8,6,-78.8,7.9,-78.5,5.3,-80.1,2,-81,.1,-81.4,-5.2,-84,-3]],
[3,[-80.5,-3.2,-76.9,-5.2,-76.5,-6.5,-78.8,-5.8,-80.5,-5.8]],
[3,[-95.2,-.7,-90,-.7,-81.4,-6.2,-71.6,-16.3,-70.3,-18.3,-70.3,-24.8,-71.3,-34,-73.3,-45.6,-76.9,-45.6,-78.2,-37,-76.9,-34,-76.2,-29,-79.5,-22.2,-86.7,-13.4,-93,-7.2,-95.2,-3.2]],
[4,[-82.7,-35.3,-76.9,-37.9,-76.2,-45,-78.2,-41.8]],
[4,[-79.8,10.2,-77.5,13.8,-67.7,14.1,-67,13.7,-76.2,12.5,-78.2,9.9]],
[4,[-87.6,.1,-83.4,1.7,-80.1,5.3,-79.1,7.3,-79.5,4,-83.4,.1]],
[4,[-80.5,-4,-78,-5.5,-78.5,-6.5,-80,-6]],
[4,[-94.5,-.9,-90,-.9,-81.4,-7.1,-71.6,-17.6,-71,-24.8,-72,-33.3,-73.3,-39.2,-77.5,-39.2,-75.9,-32.7,-76.2,-29.4,-78.8,-22.8,-86,-13.6,-92.6,-7.1,-94.5,-3.9]],
[5,[-90,-1.5,-82.7,-6.5,-79.5,-11,-72.3,-18.3,-71.6,-24.8,-72.6,-32.7,-73.9,-39.2,-76.9,-39.2,-75.2,-32.7,-75.5,-29.4,-78.2,-22.8,-84,-16.2,-89.3,-9.6,-91.2,-3.2]],
[6,[-90,-1.9,-87.3,-3.2,-82.7,-9.1,-76.2,-15,-72.9,-17.6,-72.3,-24.2,-73.3,-32.7,-74.6,-37.9,-76.2,-38.5,-74.9,-31.4,-75.5,-28,-77.5,-22.2,-82.7,-15.6,-88,-9.1,-90,-5.2]],
[7,[-90,-1.9,-87.6,-3.2,-84.3,-11,-86.3,-8.4,-89.3,-5.2]]
];
const f2403=[
[1,[-120,-43,-116,-45.6,-120,-45.6]],
[1,[-102,-39.9,-103.6,-36,-97.8,-32,-96.8,-27.2,-88.3,-27.5,-83,-30.1,-75.7,-31.4,-74.5,-45.6,-108.3,-45.6]],
[1,[-65.2,-45.6,-62,-40,-57.8,-40.6,-59.4,-44.5,-62,-45.6]],
[1,[-86.2,.7,-82.5,5.9,-81.5,9.8,-79.9,12.1,-75.7,14.7,-66.2,17.7,-58.8,21.3,-53.6,22.1,-50,21.6,-50,9.2,-56.7,7.9,-59.9,4.6,-65.2,2.6,-70.4,.3,-73.6,-2.6,-75.7,-5.9,-77.8,-5.9,-70.4,-17,-69.9,-20.3,-71.5,-33.4,-72.5,-38.6,-75.7,-44.8,-76.7,-26.8,-83,-16.4,-92.5,-8.5,-97.3,-1]],
[2,[-103,-38,-100,-33.5,-93,-33.5,-85,-33,-76,-31.5,-75,-45,-82,-45.6,-90,-40,-100,-40.5]],
[2,[-83,3.3,-81.5,7.9,-80.4,11.1,-75.7,14,-66.2,16.6,-59.9,19,-54.6,20,-50,19.3,-50,9.8,-56.7,9.2,-59.9,6.5,-70.4,5.2,-74.6,2.6,-76.7,-2,-80,-4]],
[2,[-96.5,-1,-88,-.5,-80,-4.5,-77,-7,-72,-15,-69.8,-17.8,-69.8,-21,-70.8,-31,-71.5,-37,-74,-45,-76,-45,-76.5,-35,-76.5,-27,-79,-22,-84,-16.5,-90,-11,-94,-6]],
[3,[-85.2,-40.6,-76.7,-38,-75.7,-44.8,-82,-43.8]],
[3,[-82.7,3,-81,8.4,-78.8,12,-72.5,14.6,-60.9,17.2,-50,17.2,-50,10.3,-56.1,10.3,-59.9,7.9,-69.4,7.9,-75.7,5.9,-76.7,1.3,-79.4,-1.3,-83,0]],
[3,[-94.5,-1,-89,-.7,-81,-5,-77,-8,-72,-15.5,-70,-18,-70,-21,-71,-30,-72,-37,-73.5,-43,-75.5,-43,-76,-33,-76,-27,-79,-21.5,-84,-16,-89.5,-10.5,-93,-5]],
[4,[-81.5,7.9,-78.3,12.8,-71.5,14.7,-59.9,14.1,-56.1,12.1,-56.7,10.3,-60.9,10.1,-66.2,7.9,-74.6,7.2,-76.7,3.3,-78.2,1,-84,.7]],
[4,[-93,-1,-89,-1,-81,-5.5,-77.5,-8.5,-72,-16,-70.2,-18.5,-70.5,-23,-71.5,-31,-72.5,-36,-74.5,-42,-75.5,-42,-75.5,-33,-75.7,-27,-78.5,-21.5,-83,-15.5,-88.5,-9.5,-92,-4]],
[5,[-80.9,9.5,-77.8,12.1,-70.4,13.4,-70.4,12.1,-66.2,11.5,-66.2,9.2,-74.6,8.5,-77.3,5.9,-80.5,1.5,-85.2,.3]],
[5,[-92,-1.5,-89,-1,-81.5,-5.8,-78,-9,-72.5,-16.5,-70.5,-19,-71,-25,-72,-32,-73.5,-38,-74.7,-38,-75,-31,-75.3,-26.5,-78,-21.5,-82.5,-15.5,-87.5,-9,-91,-4]],
[6,[-87,-1.5,-82,-2,-77.7,-8,-72.5,-18.8,-71,-24,-72.5,-33,-73.5,-33,-74,-26,-74.5,-19,-80,-11.1,-86.2,-3.3]],
[7,[-86.7,-1.3,-84,-2.6,-82,-4.9,-85.7,-3]]
];
const f2404=[
[1,[-120,-45.6,-105,-41,-104,-45.6]],
[1,[-107.4,-45.6,-105.3,-39.9,-101,-36.7,-96.8,-30.8,-111.6,-24.2,-106.3,-23.9,-98.9,-20.9,-91.6,-22.3,-84.2,-26.2,-79.5,-31.1,-75.8,-39.9,-74.7,-45.6]],
[1,[-72.6,-37.3,-65.3,-35.3,-61.1,-38.6,-52.6,-41.2,-51.6,-45.6,-71.6,-45.6]],
[1,[-86.8,2.9,-82.1,9.8,-80,12.4,-75.8,14.1,-65.3,14.4,-50.2,15.4,-50,7.9,-55.8,6.5,-59,4.6,-65.3,.7,-72.6,-2,-76.8,-6.5,-73.7,-9.8,-75.8,-11.8,-70.5,-17.7,-69,-20.3,-70.5,-33.4,-71.5,-40,-73.7,-45.5,-75.8,-39.9,-79,-31.4,-76.8,-24.9,-80,-19.6,-86.3,-13.1,-90,-8.5,-91.6,-3.3]],
[2,[-102.6,-45.6,-97.9,-39.9,-96.8,-33.4,-96.8,-28.8,-95.8,-25.5,-90,-26.8,-82.1,-30.1,-79.5,-32.1,-74.7,-39.9,-74.2,-45.6]],
[2,[-71.6,-37.3,-65.3,-36.7,-61,-39.3,-67.4,-42.5,-71.6,-43.2]],
[2,[-83.7,3.3,-81.1,8.5,-75.8,11.1,-61.1,12.1,-56.3,11.8,-58.4,9.2,-58.9,5.9,-65.3,2,-72.6,-.3,-76.8,-3.9,-77.4,-7.2,-80,-6.5,-82.1,-2]],
[2,[-90.5,-3,-88,-3,-80,-7,-75.5,-13.5,-71,-17,-69.5,-19,-69.5,-22,-70.5,-31,-71.5,-38,-73,-44,-76,-44,-77.5,-35,-78,-31,-77,-25,-80,-20,-84.5,-14.5,-89,-9.5,-90.5,-6]],
[3,[-88.4,-39.9,-87.4,-33.4,-85.3,-28.8,-81.1,-31.4,-77.9,-32.7,-74.7,-39.9,-74.7,-45.6,-80,-45.6,-86.3,-40.6]],
[3,[-82.6,-2,-82.1,3.3,-78.9,4.6,-81.1,-.7,-80,-5.2,-81.6,-5.2]],
[3,[-79.5,-2,-72.6,5.9,-71.6,6.5,-76.8,-.7,-76.8,-6.5,-78.9,-7.2]],
[3,[-90,-3,-87.5,-3,-81,-7.5,-76,-14,-71,-17.5,-70,-19.5,-70.2,-25,-71,-33,-72,-40,-75,-42,-76.5,-33,-77.5,-30,-76,-25,-79,-20,-84,-14,-89,-9]],
[4,[-81.1,-33.4,-76.8,-32.7,-73.7,-37.3,-74.7,-41.2,-78.9,-39.3]],
[4,[-80.5,-2.6,-77.9,-5.2,-77.4,-7.9,-80,-6.5]],
[4,[-90,-3,-87.5,-3,-81,-7.7,-76,-14.5,-71.3,-18,-70.3,-20,-70.7,-28,-71.5,-36,-72.8,-41,-75.5,-41,-76,-35,-76.5,-29,-76,-24,-78.5,-19.5,-83.5,-14,-89,-8]],
[5,[-78.4,-34.7,-75.8,-32.7,-73.7,-35.3,-74.7,-39.3,-77.4,-38]],
[5,[-89.8,-3,-87.5,-3.2,-81.5,-8,-76.2,-15,-71.5,-18.5,-70.5,-20.5,-71,-28,-72,-36,-73,-39.5,-75,-39.5,-75.5,-33,-75.5,-27,-77.8,-20,-83.2,-14,-89.3,-7.5]],
[6,[-89.7,-3,-87.5,-3.3,-82,-8.5,-76.5,-15.5,-72,-19,-71,-22,-71.5,-28,-72.5,-33.5,-74,-37,-75,-34,-75,-27,-77.5,-20,-82.5,-14,-89,-7]],
[7,[-89.6,-3,-87.5,-3.5,-83,-8.5,-77,-15,-72.5,-19.3,-71.5,-22,-72,-28,-73.5,-34,-74.5,-34,-74.5,-27,-75,-23,-77.5,-19,-83,-13,-88.5,-7]]
];
const f2405=[
[1,[-117.8,-40.6,-108.3,-38.9,-104.6,-33.7,-101,-37.3,-91.5,-32.7,-96.7,-26.2,-97.3,-24.9,-90.4,-23.9,-80.4,-22.3,-76.7,-23.6,-75.7,-26.8,-75.2,-36.6,-73.6,-45.5,-119.9,-45.5]],
[1,[-85.7,2,-83,3.9,-78.3,4.6,-77.8,2.6,-75.7,3.9,-69.9,6.2,-70.4,3.3,-63,-2,-50,-3.3,-50,-7.2,-58.8,-6.5,-66.2,-7.9,-69.4,-11,-64.2,-15.7,-68.4,-13.7,-74.7,-11.8,-76.5,-12,-79,-8,-83,-3.5,-85.5,-1]],
[1,[-71.5,-39.9,-69.4,-38.3,-66.2,-39.9,-68.3,-43.8,-73.6,-45.6]],
[2,[-117.8,-42.5,-111.5,-42.5,-113,-45.6,-115.7,-45.6]],
[2,[-102,-45.6,-96.7,-40.6,-90.4,-34,-88.3,-30,-89.4,-26.2,-82,-24.9,-76.7,-24.2,-75.2,-33.4,-74.6,-45.6]],
[2,[-83.6,-.7,-82,2.9,-78.3,3.6,-77.8,-.7,-72.5,-1.3,-63,-2.6,-66.2,-5.2,-71.5,-5.9,-69.4,-9.2,-73.6,-8.5,-76.7,-7.9,-81,-2.6]],
[2,[-89.5,-2,-85,-2,-79.3,-7.5,-73.7,-13.7,-69.5,-17.5,-69.2,-24,-70.3,-33,-71.5,-40,-75,-41,-76,-32,-75.5,-25.5,-78.5,-19,-84,-14,-89.3,-8,-89.8,-4]],
[3,[-89.4,-44.5,-86.2,-38.6,-83,-32,-79.9,-29.4,-75.7,-26.2,-74.6,-36.6,-74.6,-43.8,-79.9,-41.2]],
[3,[-81.5,-2.6,-79.9,-2,-74.6,-3.3,-72.5,-5.9,-73.6,-8.2,-76.7,-7.2,-80.4,-3.9]],
[3,[-89.4,-2,-85,-2,-79.5,-7.5,-74,-14,-69.8,-17.7,-69.5,-24,-70.6,-33,-71.8,-39.5,-75,-40,-75.8,-32,-75.2,-25.5,-78,-19,-83.5,-13.5,-88.8,-7.5,-89.6,-3.5]],
[4,[-82.5,-37.3,-79.9,-32,-76.7,-28.8,-75.2,-26.8,-74.1,-36.6,-76.7,-39.3,-78.8,-39.9]],
[4,[-81.2,-3.9,-78.8,-2.6,-75.7,-5.2,-75.7,-6.9,-78.8,-5.9]],
[4,[-89.3,-2,-85,-2,-79.8,-7.5,-74.4,-14.5,-70,-18,-69.8,-24,-70.9,-33,-72,-39,-75,-39,-75.5,-32,-75,-25.5,-77.7,-19,-83,-13.2,-88.3,-7,-89.5,-3]],
[5,[-76.7,-36.6,-75.2,-30.8,-74.1,-33.4,-73.6,-36.6,-75.2,-38.3]],
[5,[-89.2,-2,-85,-2.2,-80,-7.5,-74.7,-14.8,-70.3,-18.3,-70,-24,-71.2,-33,-72.4,-38.5,-74.5,-38,-75,-32,-74.7,-25.5,-77.2,-19,-82.5,-13,-87.9,-6.8,-89.4,-3]],
[6,[-89,-2,-85,-2.4,-80.3,-7.5,-75,-15,-70.7,-18.7,-70.4,-24,-71.6,-33,-72.8,-37.5,-74.3,-37,-74.6,-32,-74.3,-25.5,-76.7,-19,-82,-13,-87.3,-6.5,-89,-3]],
[7,[-88.3,-1.3,-85.2,-2.6,-80.9,-7.2,-75.7,-15,-70.9,-19,-70.9,-24.2,-72.3,-33.4,-73.4,-36.6,-74.1,-32,-73.8,-25.5,-76.2,-19,-81.5,-13,-86.7,-6.5,-88.5,-2.6]]
];
const f2406=[
[1,[-119.5,-45.6,-119.5,-30.1,-112.6,-22.2,-101.1,-18.3,-88.4,-16.7,-76.8,-17.7,-73.7,-20.3,-73.7,-45.6]],
[1,[-110,-15,-104.2,-13.4,-92.6,-15,-99,-14.4]],
[1,[-70.5,-36.6,-65.3,-34.7,-57.9,-39.9,-51.6,-45.6,-69.4,-45.6]],
[1,[-84.2,-.7,-83.7,3.6,-80,3.9,-76.8,2.9,-77.4,2,-65.3,-.7,-50,-1,-50,-8.5,-56.8,-7.9,-65.3,-9.2,-68.4,-11,-62.1,-20.3,-65.3,-16.4,-71.6,-11.8,-74,-12.5,-80,-7,-83,-3]],
[2,[-115.8,-45.6,-113.7,-33.4,-113.7,-28.1,-108.4,-24.2,-103.2,-19.6,-88.4,-17,-77.9,-19,-73.7,-21.6,-74.2,-45.6]],
[1,[-103.2,-30.8,-93.7,-30.8,-96.8,-32.1,-103.2,-32.7]],
[1,[-107.4,-34,-97.9,-32.7,-101,-34.7,-106.3,-35.3]],
[1,[-83.2,-41.2,-74.7,-39.9,-75.8,-45.6,-81.6,-45.6]],
[2,[-72.6,-39.9,-67.4,-41.2,-69.4,-45.6,-72.6,-45.6]],
[2,[-82.1,-5.2,-82.6,-.7,-77.4,2,-76.8,-.7,-71.6,-1.3,-63,-5.2,-67.4,-5.9,-71.6,-8.5,-75.8,-7.9,-80,-6.5]],
[2,[-90.5,-2.5,-86,-1.5,-79.7,-7.2,-74,-14,-69.5,-18.2,-68.5,-22,-70,-30,-71,-37,-72,-40,-78,-32,-77,-25,-78.2,-20,-84.5,-14.5,-90.3,-8.5]],
[3,[-91.6,-24.9,-86.3,-26.8,-83.2,-21.6,-76,-26.8,-73.7,-33.4,-74.7,-38.6,-86.3,-43.8,-88,-45.6,-95,-45.6,-86,-39,-83,-35,-91,-29.5]],
[3,[-81.1,-3.9,-79.5,-2,-75.8,-3.3,-71.6,-8.5,-74.7,-7.9,-80,-6.5]],
[3,[-90.3,-2,-86,-1.8,-80,-7.5,-74.3,-14.3,-70,-17.7,-69.3,-22,-70.2,-30,-71,-36,-72.5,-39,-75,-38,-76.5,-33,-76.5,-26,-77.8,-20,-84,-14,-90,-8]],
[4,[-84.2,-27.5,-82.1,-25.5,-74.7,-27.5,-72.6,-32,-74.2,-36.6,-80,-32,-83.2,-30.8]],
[4,[-86.3,-21,-83.2,-21.5,-76.8,-26.2,-73.7,-30.8,-75.8,-31,-80,-26.5,-85,-22.5]],
[4,[-80.5,-4.3,-78.4,-3.3,-75.8,-5.9,-76.8,-7.2,-80,-6.5]],
[4,[-90.2,-2,-86,-2,-80.3,-7.8,-74.6,-14.7,-70.2,-18,-69.9,-26.8,-71,-34,-72.7,-38.5,-75,-37,-75.8,-31,-75.5,-25.5,-77.3,-19.5,-83.5,-13.5,-89.7,-7.5]],
[5,[-80,-30.8,-75.8,-28.1,-73.2,-30.8,-73.2,-34.7,-76.8,-32]],
[5,[-90,-1.8,-86,-2.2,-80.7,-8,-75,-15,-70.5,-18.2,-70.4,-26.8,-71.7,-34,-73.2,-37.5,-74.7,-35,-75,-31,-74.7,-25.5,-76.8,-19,-83,-13.2,-89,-7]],
[6,[-89.8,-1.6,-86,-2.4,-81,-8,-75.3,-15,-71,-18.5,-70.8,-26.8,-72.4,-34,-73.5,-35.5,-74.4,-31,-74.2,-25.5,-76.3,-19,-82.6,-13,-88.5,-6.5]],
[7,[-89.5,-1.6,-86.3,-2.6,-81.6,-7.9,-75.8,-15,-71.5,-19,-71.6,-26.8,-73.2,-33.4,-73.9,-30.8,-73.7,-25.5,-75.8,-19,-82.1,-13,-87.9,-6.5]]
];
const footprintLayers=[f2307,f2308,f2309,f2310,f2311,f2312,f2401,f2402,f2403,f2404,f2405,f2406];

const NS='http://www.w3.org/2000/svg';
const svg=document.getElementById('figure');
const panelLefts=[119,583,1046.7,1510.3];
const panelTops=[60,539.3,1019.3];
const panelW=357,panelH=352.7;
function make(tag,attrs,parent){const e=document.createElementNS(NS,tag);for(const k in attrs)e.setAttribute(k,attrs[k]);parent.appendChild(e);return e;}
function xScale(lon,left){return left+(lon-lonDomain[0])/(lonDomain[1]-lonDomain[0])*panelW;}
function yScale(lat,top){return top+(latDomain[1]-lat)/(latDomain[1]-latDomain[0])*panelH;}
function pathFrom(flat,left,top,close){let d='';for(let i=0;i<flat.length;i+=2){d+=(i?'L':'M')+xScale(flat[i],left).toFixed(1)+' '+yScale(flat[i+1],top).toFixed(1);}return d+(close?'Z':'');}
function roundedRing(flat,left,top){
  const n=flat.length/2,px=[];
  for(let i=0;i<n;i++)px.push([xScale(flat[2*i],left),yScale(flat[2*i+1],top)]);
  const f=.3;let d='';
  for(let i=0;i<n;i++){
    const a=px[(i+n-1)%n],b=px[i],c=px[(i+1)%n];
    const sx=b[0]+(a[0]-b[0])*f,sy=b[1]+(a[1]-b[1])*f,ex=b[0]+(c[0]-b[0])*f,ey=b[1]+(c[1]-b[1])*f;
    d+=(i?'L':'M')+sx.toFixed(1)+' '+sy.toFixed(1)+'Q'+b[0].toFixed(1)+' '+b[1].toFixed(1)+' '+ex.toFixed(1)+' '+ey.toFixed(1);
  }
  return d+'Z';
}
function lonLabel(v){return Math.abs(v)+'°'+(v<0?'W':'E');}
function latLabel(v){return v===0?'0°':Math.abs(v)+'°'+(v<0?'S':'N');}

const defs=make('defs',{},svg);
months.forEach((m,i)=>{
  const left=panelLefts[i%4],top=panelTops[Math.floor(i/4)];
  const clip=make('clipPath',{id:'clip-'+i},defs);
  make('rect',{x:left,y:top,width:panelW,height:panelH},clip);
  const g=make('g',{},svg);
  
  
  const bg=make('rect',{x:left,y:top,width:panelW,height:panelH,fill:bandColors[0]},g);
  
  
  const inner=make('g',{'clip-path':'url(#clip-'+i+')'},g);
  footprintLayers[i].forEach(layer=>{
    const p=make('path',{d:roundedRing(layer[1],left,top),fill:bandColors[layer[0]]},inner);
    
    
  });
  lonGrid.forEach(v=>{
    const x=xScale(v,left);
    const l=make('line',{x1:x,x2:x,y1:top,y2:top+panelH,stroke:'#c8c8c8','stroke-width':1.3,'stroke-dasharray':'5 4'},inner);
    
    
  });
  latGrid.forEach(v=>{
    const y=yScale(v,top);
    const l=make('line',{x1:left,x2:left+panelW,y1:y,y2:y,stroke:'#c8c8c8','stroke-width':1.3,'stroke-dasharray':'5 4'},inner);
    
    
  });
  [coastPacific,coastCaribbean,coastAtlantic].forEach(c=>{
    const p=make('path',{d:pathFrom(c,left,top,false),fill:'none',stroke:'#000','stroke-width':2.6,'stroke-linejoin':'round'},inner);
    
    
  });
  [islandCuba,islandJamaica,islandHispaniola,islandPuertoRico,bajaTip,lakeMaracaibo,islandMarajo].forEach(c=>{
    const p=make('path',{d:pathFrom(c,left,top,true),fill:'none',stroke:'#000','stroke-width':2.6,'stroke-linejoin':'round'},inner);
    
    
  });
  const cx=xScale(site[0],left),cy=yScale(site[1],top),r=10.5;
  const shape=[-1,-.5,-.5,-1,0,-.5,.5,-1,1,-.5,.5,0,1,.5,.5,1,0,.5,-.5,1,-1,.5,-.5,0];
  let pts='';for(let k=0;k<shape.length;k+=2)pts+=(cx+shape[k]*r).toFixed(1)+','+(cy+shape[k+1]*r).toFixed(1)+' ';
  const mk=make('polygon',{points:pts,fill:'#800080',stroke:'#800080','stroke-width':1.5,'stroke-linejoin':'round'},inner);
  
  
  const frame=make('rect',{x:left,y:top,width:panelW,height:panelH,fill:'none',stroke:'#1a1a1a','stroke-width':2},g);
  
  
  const t=make('text',{x:left+panelW/2,y:top-14,'text-anchor':'middle','font-size':36},g);
  t.textContent=m;
  
  
  lonTicks.forEach(v=>{
    const e=make('text',{x:xScale(v,left),y:top+panelH+40,'text-anchor':'middle','font-size':36},g);
    e.textContent=lonLabel(v);
    
    
  });
  latTicks.forEach(v=>{
    const e=make('text',{x:left-12.5,y:yScale(v,top)+11,'text-anchor':'end','font-size':36},g);
    e.textContent=latLabel(v);
    
    
  });
});

const cbLeft=119,cbStep=208.1,cbTop=1480,cbBottom=1512;
function cbX(i){return cbLeft+i*cbStep;}
const cb=make('g',{},svg);


bandColors.forEach((c,i)=>{
  const r=make('rect',{x:cbX(i),y:cbTop,width:cbStep+.5,height:cbBottom-cbTop,fill:c},cb);
  
  
});
const lastX=cbX(levels.length-1),tipX=1871;
const arrow=make('polygon',{points:lastX+','+cbTop+' '+tipX+','+((cbTop+cbBottom)/2)+' '+lastX+','+cbBottom,fill:bandColors[7]},cb);


const outline=make('path',{d:'M'+cbLeft+' '+cbTop+'L'+lastX+' '+cbTop+'L'+tipX+' '+((cbTop+cbBottom)/2)+'L'+lastX+' '+cbBottom+'L'+cbLeft+' '+cbBottom+'Z',fill:'none',stroke:'#000','stroke-width':2},cb);


levels.forEach((v,i)=>{
  const x=cbX(i);
  const l=make('line',{x1:x,x2:x,y1:cbBottom,y2:cbBottom+8,stroke:'#000','stroke-width':1.6},cb);
  
  
  const t=make('text',{x:x,y:1556,'text-anchor':'middle','font-size':36},cb);
  t.textContent=String(v);
  
  
});
const label=make('text',{x:621,y:1605,'font-size':36},cb);


label.appendChild(document.createTextNode('Mean Footprints (s kg'));
const s1=make('tspan',{dy:-15,'font-size':25.5},label);s1.textContent='−1';
const m1=make('tspan',{dy:15},label);m1.textContent=' pmol mol';
const s2=make('tspan',{dy:-15,'font-size':25.5},label);s2.textContent='−1';
const m2=make('tspan',{dy:15},label);m2.textContent=')';
</script>
</body></html>
